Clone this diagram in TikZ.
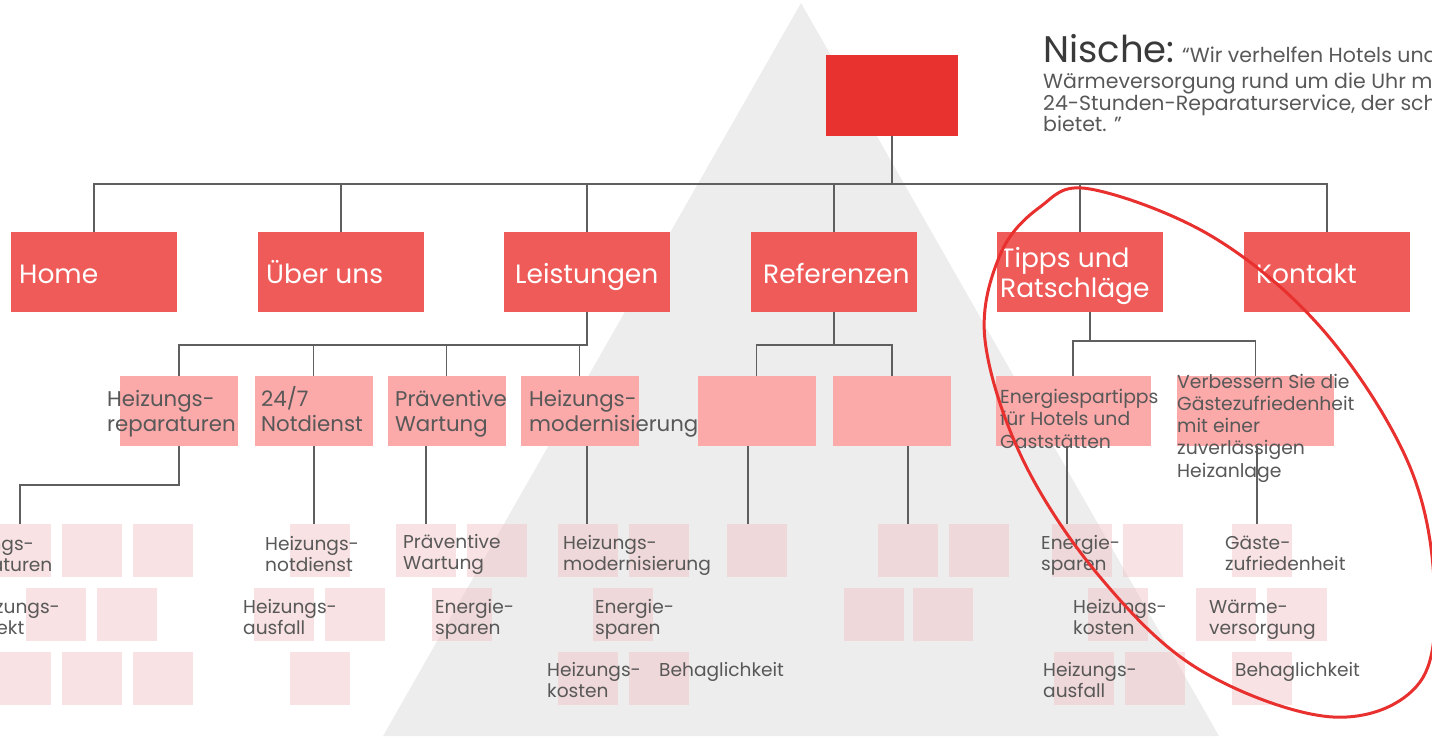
\documentclass[tikz,border=0pt]{standalone}
\usepackage{fontspec}
\setmainfont{Poppins}
\definecolor{topred}{RGB}{232,50,47}
\definecolor{mainred}{RGB}{238,91,89}
\definecolor{subpink}{RGB}{251,169,169}
\definecolor{leafpink}{RGB}{241,197,199}
\definecolor{pyramid}{RGB}{237,237,237}
\definecolor{linegrey}{RGB}{95,95,95}
\definecolor{txtgrey}{RGB}{88,88,88}
\definecolor{nichegrey}{RGB}{58,58,58}
\definecolor{ringred}{RGB}{232,48,46}

\begin{document}
\begin{tikzpicture}[x=1pt,y=-1pt,
   topbox/.style={fill=topred,minimum width=132pt,minimum height=81pt,inner sep=0pt},
   mainbox/.style={fill=mainred,minimum width=166pt,minimum height=80pt,inner sep=0pt},
   subbox/.style={fill=subpink,minimum width=118pt,minimum height=70pt,inner sep=0pt},
   leafbox/.style={fill=leafpink,fill opacity=0.5,minimum width=60pt,minimum height=53pt,inner sep=0pt},
   conn/.style={draw=linegrey,line width=1.6pt},
   maintxt/.style={anchor=base west,inner sep=0pt,text=white,align=left,font=\fontsize{26.5}{30}\selectfont},
   subtxt/.style={anchor=base west,inner sep=0pt,text=txtgrey,align=left,font=\fontsize{21.3}{25}\selectfont},
   notetxt/.style={anchor=base west,inner sep=0pt,text=txtgrey,align=left,font=\fontsize{18.8}{22.2}\selectfont},
   leaftxt/.style={anchor=base west,inner sep=0pt,text=txtgrey,align=left,font=\fontsize{18.6}{21}\selectfont}]
   \useasboundingbox (0,0) rectangle (1432,739);
   \clip (0,0) rectangle (1432,739);
   \fill[pyramid] (801,3) -- (1219,736) -- (383,736) -- cycle;

   \node[topbox] (top) at (892,95.5) {};
   \node[mainbox] (home)    at (94,272)   {};
   \node[mainbox] (ueber)   at (341,272)  {};
   \node[mainbox] (leist)   at (587,272)  {};
   \node[mainbox] (refer)   at (834,272)  {};
   \node[mainbox] (tipps)   at (1080,272) {};
   \node[mainbox] (kontakt) at (1327,272) {};

   \node[subbox] (hrep)   at (179,411)   {};
   \node[subbox] (notd)   at (313.5,411) {};
   \node[subbox] (praev)  at (446.5,411) {};
   \node[subbox] (modern) at (579.5,411) {};
   \node[subbox] (refl)   at (756.5,411) {};
   \node[subbox] (refr)   at (892,411)   {};
   \node[subbox,minimum width=155pt] (espar) at (1073,411)  {};
   \node[subbox,minimum width=157pt] (verb)  at (1255.5,411) {};

   \foreach \x/\y [count=\i] in {21/550.5,92/550.5,163/550.5,56/614.5,127/614.5,21/678.5,92/678.5,163/678.5,
      320/550.5,284/614.5,355/614.5,320/678.5,
      426/550.5,497/550.5,462/614.5,
      588/550.5,659/550.5,623/614.5,588/678.5,659/678.5,
      757/550.5,
      908/550.5,979/550.5,874/614.5,943/614.5,
      1082/550.5,1153/550.5,1118/614.5,1084/678.5,1155/678.5,
      1262/550.5,1226/614.5,1297/614.5,1262/678.5}
      \node[leafbox] (leaf\i) at (\x,\y) {};

   \coordinate (bar)   at (0,184);
   \coordinate (lbar)  at (0,345);
   \coordinate (tstub) at (1090,341);
   \coordinate (dA) at (20,524);
   \coordinate (dB) at (314,524);
   \coordinate (dC) at (426,524);
   \coordinate (dD) at (587,524);
   \coordinate (dE) at (748,524);
   \coordinate (dF) at (908,524);
   \coordinate (dG) at (1067,524);
   \coordinate (dH) at (1257,524);

   \draw[conn] (top.south) -- (top.south |- bar);
   \draw[conn] (home.north) |- (bar -| kontakt.north) -- (kontakt.north);
   \foreach \n in {ueber,leist,refer,tipps}
      \draw[conn] (\n.north) -- (\n.north |- bar);

   \draw[conn] (leist.south) |- (lbar -| hrep.north) -- (hrep.north);
   \foreach \n in {notd,praev,modern}
      \draw[conn] (\n.north) -- (\n.north |- lbar);
   \draw[conn] (refer.south) -- (refer.south |- lbar);
   \draw[conn] (refl.north) |- (lbar -| refr.north) -- (refr.north);
   \draw[conn] (tipps.south -| tstub) -- (tstub);
   \draw[conn] (espar.north) |- (tstub -| verb.north) -- (verb.north);

   \draw[conn] (hrep.south) -- ++(0,39) -| (dA);
   \draw[conn] (notd.south -| dB) -- (dB);
   \draw[conn] (praev.south -| dC) -- (dC);
   \draw[conn] (modern.south -| dD) -- (dD);
   \draw[conn] (refl.south -| dE) -- (dE);
   \draw[conn] (refr.south -| dF) -- (dF);
   \draw[conn] (espar.south -| dG) -- (dG);
   \draw[conn] (verb.south -| dH) -- (dH);

   \node[anchor=base west,inner sep=0pt,text=nichegrey,font=\fontsize{37}{37}\selectfont] (nische) at (1043,62.7) {Nische:};
   \node[anchor=base west,inner sep=0pt,text=txtgrey,font=\fontsize{20.5}{21.7}\selectfont] (quote) at ([xshift=7pt]nische.base east) {“Wir verhelfen Hotels und};
   \node[anchor=base west,inner sep=0pt,text=txtgrey,align=left,font=\fontsize{20.5}{21.7}\selectfont] (quotetail) at (1043,131.7)
      {Wärmeversorgung rund um die Uhr mit\\24-Stunden-Reparaturservice, der schnelle\\bietet. ”};

   \node[maintxt] (tHome)    at (19,283)    {Home};
   \node[maintxt] (tUeber)   at (266,283)   {Über uns};
   \node[maintxt] (tLeist)   at (515,283)   {Leistungen};
   \node[maintxt] (tRefer)   at (763,283)   {Referenzen};
   \node[maintxt] (tTipps)   at (1000,297)  {Tipps und\\Ratschläge};
   \node[maintxt] (tKontakt) at (1256,283)  {Kontakt};

   \node[subtxt] (tHrep)   at (107,431.7) {Heizungs-\\reparaturen};
   \node[subtxt] (tNotd)   at (261,431.7) {24/7\\Notdienst};
   \node[subtxt] (tPraev)  at (395,431.7) {Präventive\\Wartung};
   \node[subtxt] (tModern) at (529,431.7) {Heizungs-\\modernisierung};
   \node[notetxt] (tEspar) at (1000,448)  {Energiespartipps\\für Hotels und\\Gaststätten};
   \node[notetxt] (tVerb)  at (1177,477)  {Verbessern Sie die\\Gästezufriedenheit\\mit einer\\zuverlässigen\\Heizanlage};

   \node[leaftxt] (lA1) at (-60,571) {Heizungs-\\reparaturen};
   \node[leaftxt] (lA2) at (-34,634) {Heizungs-\\defekt};
   \node[leaftxt] (lB1) at (265,571) {Heizungs-\\notdienst};
   \node[leaftxt] (lB2) at (243,634) {Heizungs-\\ausfall};
   \node[leaftxt] (lC1) at (403,569) {Präventive\\Wartung};
   \node[leaftxt] (lC2) at (435,634) {Energie-\\sparen};
   \node[leaftxt] (lD1) at (563,570) {Heizungs-\\modernisierung};
   \node[leaftxt] (lD2) at (595,634) {Energie-\\sparen};
   \node[leaftxt] (lD3) at (547,697) {Heizungs-\\kosten};
   \node[leaftxt] (lD4) at (659,676) {Behaglichkeit};
   \node[leaftxt] (lG1) at (1041,570) {Energie-\\sparen};
   \node[leaftxt] (lG2) at (1073,634) {Heizungs-\\kosten};
   \node[leaftxt] (lG3) at (1043,697) {Heizungs-\\ausfall};
   \node[leaftxt] (lH1) at (1225,570) {Gäste-\\zufriedenheit};
   \node[leaftxt] (lH2) at (1209,634) {Wärme-\\versorgung};
   \node[leaftxt] (lH3) at (1235,676) {Behaglichkeit};

   \draw[ringred,line width=3pt] plot[smooth cycle,tension=0.6] coordinates {(1090,189) (1213,237) (1323,330) (1407,460) (1434,580)
      (1420,682) (1333,717) (1200,670) (1100,577) (1023,460) (985,340) (1000,255) (1040,207)};
\end{tikzpicture}
\end{document}
